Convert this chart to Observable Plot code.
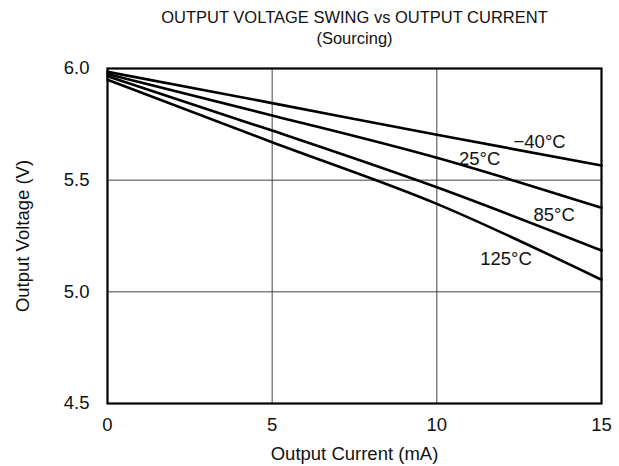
<!DOCTYPE html>
<html>
<head>
<meta charset="utf-8">
<script src="https://cdn.jsdelivr.net/npm/d3@7"></script>
<script src="https://cdn.jsdelivr.net/npm/@observablehq/plot@0.6"></script>
<style>
  html, body { margin: 0; padding: 0; background: #fff; }
  svg { font-family: "Liberation Sans", Arial, sans-serif; }
</style>
</head>
<body>
<div id="chart"></div>
<script>
const currents = [0, 5, 10, 15];
const vM40 = [5.985, 5.845, 5.703, 5.566];
const v25 = [5.975, 5.790, 5.600, 5.376];
const v85 = [5.965, 5.722, 5.468, 5.185];
const v125 = [5.950, 5.670, 5.394, 5.054];
const seriesNames = ["−40°C", "25°C", "85°C", "125°C"];
const seriesValues = [vM40, v25, v85, v125];
const labelPos = [ // [current, voltage] for in-plot labels
  [13.12, 5.670], [11.30, 5.593], [13.56, 5.342], [12.10, 5.145]
];
const xTicks = [0, 5, 10, 15];
const yTicks = [4.5, 5.0, 5.5, 6.0];
const title = "OUTPUT VOLTAGE SWING vs OUTPUT CURRENT";
const subtitle = "(Sourcing)";
const xLabel = "Output Current (mA)";
const yLabel = "Output Voltage (V)";

const data = seriesNames.flatMap((s, i) =>
  currents.map((c, j) => ({series: s, current: c, voltage: seriesValues[i][j]})));
const labels = seriesNames.map((s, i) => ({series: s, current: labelPos[i][0], voltage: labelPos[i][1]}));

const FS = 18.5;
const chart = Plot.plot({
  width: 619,
  height: 466,
  marginTop: 68,
  marginBottom: 63,
  marginLeft: 107,
  marginRight: 18,
  style: {fontFamily: "'Liberation Sans', Arial, sans-serif", fontSize: FS + "px", color: "#000", background: "#fff"},
  x: {domain: [0, 15], ticks: xTicks, label: null},
  y: {domain: [4.5, 6.0], ticks: yTicks, label: null, tickFormat: d3.format(".1f")},
  marks: [
    Plot.gridX([5, 10], {stroke: "#444", strokeOpacity: 1, strokeWidth: 1}),
    Plot.gridY([5.0, 5.5], {stroke: "#444", strokeOpacity: 1, strokeWidth: 1}),
    Plot.axisX({ticks: xTicks, tickSize: 0, tickPadding: 14, fontSize: FS, label: null, fill: "#111"}),
    Plot.axisY({ticks: yTicks, tickSize: 0, tickPadding: 18, fontSize: FS, label: null, fill: "#111", tickFormat: d3.format(".1f")}),
    Plot.line(data, {x: "current", y: "voltage", z: "series", stroke: "#000", strokeWidth: 2.6, curve: "monotone-x"}),
    Plot.text(labels, {x: "current", y: "voltage", text: "series", fontSize: FS, fill: "#111"}),
    Plot.frame({stroke: "#000", strokeWidth: 2.2}),
    Plot.text([title], {frameAnchor: "top", lineAnchor: "middle", dy: -51, fontSize: 16.5, fill: "#111"}),
    Plot.text([subtitle], {frameAnchor: "top", lineAnchor: "middle", dy: -30, fontSize: 16.5, fill: "#111"}),
    Plot.text([xLabel], {frameAnchor: "bottom", lineAnchor: "middle", dy: 51, fontSize: FS, fill: "#111"}),
    Plot.text([yLabel], {frameAnchor: "left", lineAnchor: "middle", dx: -84, rotate: -90, textAnchor: "middle", fontSize: FS, fill: "#111"})
  ]
});
document.getElementById("chart").appendChild(chart);
</script>
</body>
</html>
